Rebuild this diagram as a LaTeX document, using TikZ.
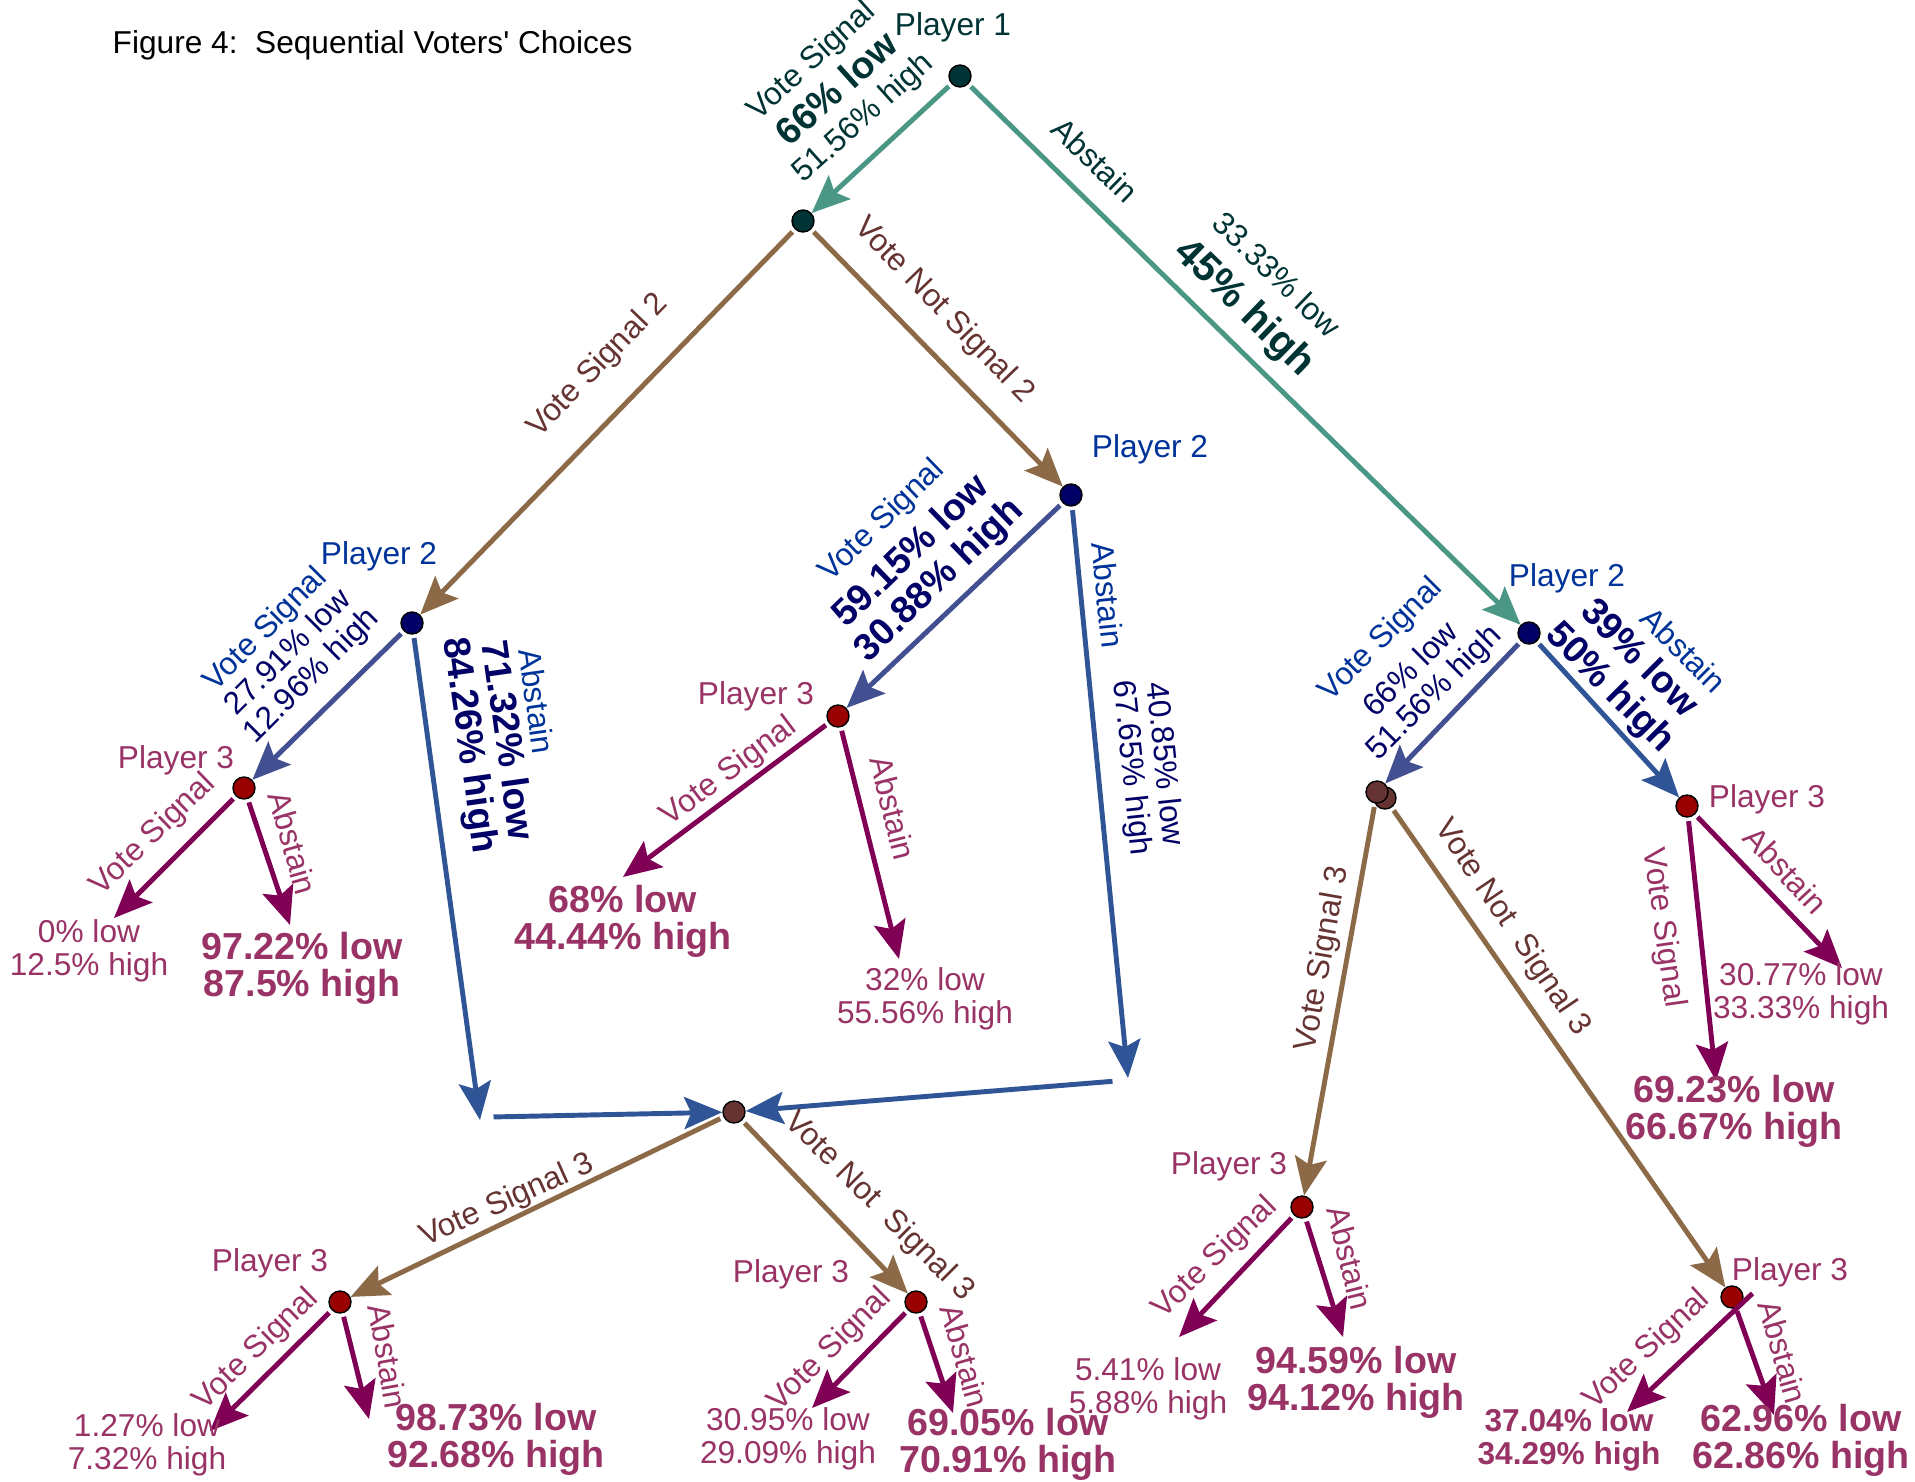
\documentclass[tikz,border=0pt]{standalone}
\usepackage{fontspec}
\setmainfont{Liberation Sans}
\usetikzlibrary{arrows.meta}
\definecolor{pone}{HTML}{003333}
\definecolor{tline}{HTML}{4A9786}
\definecolor{bline}{HTML}{8C6A48}
\definecolor{btext}{HTML}{663333}
\definecolor{ptwo}{HTML}{003399}
\definecolor{navy}{HTML}{000066}
\definecolor{vblue}{HTML}{424F90}
\definecolor{ablue}{HTML}{2F5597}
\definecolor{mline}{HTML}{800055}
\definecolor{pthree}{HTML}{993366}
\definecolor{pred}{HTML}{990000}
\newcommand\labfont{\fontsize{9}{9.3}\selectfont}
\newcommand\probfont{\fontsize{10.7}{10.6}\selectfont\bfseries}
\newcommand\headfont{\fontsize{11.5}{11}\selectfont\bfseries}
\newcommand\squote{\XeTeXglyph\XeTeXcharglyph"0027\relax}
\tikzset{
  dot/.style={circle,draw=black,line width=0.4pt,minimum size=0.22cm,inner sep=0pt},
  arr/.style={-{Stealth[length=0.38cm,width=0.32cm,inset=0.07cm]},line width=1.4pt,shorten <=1pt},
  lbl/.style={inner sep=0pt,align=center,font=\labfont},
  prob/.style={inner sep=0pt,align=center,font=\probfont},
}
\begin{document}
\begin{tikzpicture}[x=0.01cm,y=-0.01cm]
\useasboundingbox (0,0) rectangle (1915,1481);
\node[lbl,anchor=west] (title) at (112,45) {Figure 4:\ \ Sequential Voters\squote{} Choices};
% choice nodes
\node[dot,fill=pone] (p1) at (960,76) {};
\node[dot,fill=pone] (s1) at (803,221) {};
\node[dot,fill=navy] (p2l) at (412,623) {};
\node[dot,fill=navy] (p2m) at (1071,495) {};
\node[dot,fill=navy] (p2r) at (1529,633) {};
\node[dot,fill=pred] (p3a) at (244,788) {};
\node[dot,fill=pred] (p3b) at (838,716) {};
\node[dot,fill=btext] (m1) at (734,1112) {};
\node[dot,fill=pred] (p3c) at (340,1302) {};
\node[dot,fill=pred] (p3d) at (916,1302) {};
\node[dot,fill=btext] (m2b) at (1385,798) {};
\node[dot,fill=btext] (m2) at (1377,792) {};
\node[dot,fill=pred] (p3e) at (1687,806) {};
\node[dot,fill=pred] (p3f) at (1302,1207) {};
\node[dot,fill=pred] (p3g) at (1732,1297) {};
% free ends
\coordinate (t2l) at (480,1120);
\coordinate (h2l) at (490,1117);
\coordinate (t2m) at (1128,1078);
\coordinate (h2m) at (1116,1081);
\coordinate (t3a1) at (114,918);
\coordinate (t3a2) at (290,925);
\coordinate (t3b1) at (623,877);
\coordinate (t3b2) at (899,959);
\coordinate (t3c1) at (210,1431);
\coordinate (t3c2) at (369,1419);
\coordinate (t3d1) at (812,1408);
\coordinate (t3d2) at (953,1413);
\coordinate (t3e1) at (1716,1081);
\coordinate (t3e2) at (1842,968);
\coordinate (t3f1) at (1179,1337);
\coordinate (t3f2) at (1343,1337);
\coordinate (s3g1) at (1755,1291);
\coordinate (t3g1) at (1627,1412);
\coordinate (t3g2) at (1774,1415);
% player 1
\draw[arr,tline] (p1) -- (s1);
\draw[arr,tline] (p1) -- (p2r);
\draw[arr,bline] (s1) -- (p2l);
\draw[arr,bline] (s1) -- (p2m);
% player 2
\draw[arr,vblue] (p2l) -- (p3a);
\draw[arr,ablue] (p2l) -- (t2l);
\draw[arr,ablue] (h2l) -- (m1);
\draw[arr,vblue] (p2m) -- (p3b);
\draw[arr,ablue] (p2m) -- (t2m);
\draw[arr,ablue] (h2m) -- (m1);
\draw[arr,vblue] (p2r) -- (m2);
\draw[arr,ablue] (p2r) -- (p3e);
\draw[arr,bline] (m1) -- (p3c);
\draw[arr,bline] (m1) -- (p3d);
\draw[arr,bline] (m2) -- (p3f);
\draw[arr,bline] (m2b) -- (p3g);
% player 3
\draw[arr,mline] (p3a) -- (t3a1);
\draw[arr,mline] (p3a) -- (t3a2);
\draw[arr,mline] (p3b) -- (t3b1);
\draw[arr,mline] (p3b) -- (t3b2);
\draw[arr,mline] (p3c) -- (t3c1);
\draw[arr,mline] (p3c) -- (t3c2);
\draw[arr,mline] (p3d) -- (t3d1);
\draw[arr,mline] (p3d) -- (t3d2);
\draw[arr,mline] (p3e) -- (t3e1);
\draw[arr,mline] (p3e) -- (t3e2);
\draw[arr,mline] (p3f) -- (t3f1);
\draw[arr,mline] (p3f) -- (t3f2);
\draw[arr,mline] (s3g1) -- (t3g1);
\draw[arr,mline] (p3g) -- (t3g2);
% labels, player 1
\node[lbl,text=pone] (lp1) at (953,27) {Player 1};
\node[lbl,text=pone,rotate=42] (lv1) at (838,90) {Vote Signal\\[1pt]{\probfont 66\% low}\\[1pt]51.56\% high};
\node[lbl,text=pone,rotate=-44] (la1) at (1095,160) {Abstain};
\node[lbl,text=pone,rotate=-44] (lq1) at (1258,294) {33.33\% low\\[4pt]{\headfont 45\% high}};
\node[lbl,text=btext,rotate=46] (lvs2) at (598,366) {Vote Signal 2};
\node[lbl,text=btext,rotate=-46] (lvn2) at (944,311) {Vote Not Signal 2};
% labels, player 2
\node[lbl,text=ptwo] (lp2l) at (379,556) {Player 2};
\node[lbl,text=ptwo] (lp2m) at (1150,449) {Player 2};
\node[lbl,text=ptwo] (lp2r) at (1567,578) {Player 2};
\node[lbl,text=navy,rotate=45] (lv2l) at (289,653) {\textcolor{ptwo}{Vote Signal}\\27.91\% low\\12.96\% high};
\node[lbl,text=ptwo,rotate=-82] (la2l) at (537,701) {Abstain};
\node[prob,text=navy,rotate=-82] (lq2l) at (487,743) {71.32\% low\\84.26\% high};
\node[lbl,text=navy,rotate=44] (lv2m) at (912,552) {\textcolor{ptwo}{Vote Signal}\\[2pt]{\probfont 59.15\% low}\\[2pt]{\probfont 30.88\% high}};
\node[lbl,text=ptwo,rotate=-84] (la2m) at (1108,595) {Abstain};
\node[lbl,text=navy,rotate=-84] (lq2m) at (1147,766) {40.85\% low\\67.65\% high};
\node[lbl,text=navy,rotate=45] (lv2r) at (1408,667) {\textcolor{ptwo}{Vote Signal}\\[3pt]66\% low\\51.56\% high};
\node[lbl,text=ptwo,rotate=-45] (la2r) at (1684,650) {Abstain};
\node[prob,text=navy,rotate=-45] (lq2r) at (1624,674) {39\% low\\[1pt]50\% high};
\node[lbl,text=btext,rotate=24] (lvs3a) at (507,1201) {Vote Signal 3};
\node[lbl,text=btext,rotate=-45] (lvn3a) at (879,1207) {Vote Not\ \ Signal 3};
\node[lbl,text=btext,rotate=80] (lvs3b) at (1323,959) {Vote Signal 3};
\node[lbl,text=btext,rotate=-56] (lvn3b) at (1512,928) {Vote Not\ \ Signal 3};
% labels, player 3
\node[lbl,text=pthree] (lp3a) at (176,760) {Player 3};
\node[lbl,text=pthree] (lp3b) at (756,696) {Player 3};
\node[lbl,text=pthree] (lp3c) at (270,1263) {Player 3};
\node[lbl,text=pthree] (lp3d) at (791,1274) {Player 3};
\node[lbl,text=pthree] (lp3e) at (1767,799) {Player 3};
\node[lbl,text=pthree] (lp3f) at (1229,1166) {Player 3};
\node[lbl,text=pthree] (lp3g) at (1790,1272) {Player 3};
\node[lbl,text=pthree,rotate=44] (lv3a) at (153,835) {Vote Signal};
\node[lbl,text=pthree,rotate=-74] (la3a) at (293,843) {Abstain};
\node[lbl,text=pthree,rotate=37] (lv3b) at (729,772) {Vote Signal};
\node[lbl,text=pthree,rotate=-76] (la3b) at (893,808) {Abstain};
\node[lbl,text=pthree,rotate=44] (lv3c) at (256,1350) {Vote Signal};
\node[lbl,text=pthree,rotate=-80] (la3c) at (388,1356) {Abstain};
\node[lbl,text=pthree,rotate=45] (lv3d) at (830,1350) {Vote Signal};
\node[lbl,text=pthree,rotate=-74] (la3d) at (965,1356) {Abstain};
\node[lbl,text=pthree,rotate=-82] (lv3e) at (1663,928) {Vote Signal};
\node[lbl,text=pthree,rotate=-47] (la3e) at (1786,870) {Abstain};
\node[lbl,text=pthree,rotate=44] (lv3f) at (1215,1258) {Vote Signal};
\node[lbl,text=pthree,rotate=-76] (la3f) at (1350,1258) {Abstain};
\node[lbl,text=pthree,rotate=43] (lv3g) at (1647,1350) {Vote Signal};
\node[lbl,text=pthree,rotate=-74] (la3g) at (1783,1352) {Abstain};
% outcomes
\node[lbl,text=pthree] (q3a1) at (89,951) {0\% low\\12.5\% high};
\node[prob,text=pthree] (q3a2) at (302,968) {97.22\% low\\87.5\% high};
\node[prob,text=pthree] (q3b1) at (623,921) {68\% low\\44.44\% high};
\node[lbl,text=pthree] (q3b2) at (925,999) {32\% low\\55.56\% high};
\node[lbl,text=pthree] (q3c1) at (147,1445) {1.27\% low\\7.32\% high};
\node[prob,text=pthree] (q3c2) at (496,1439) {98.73\% low\\92.68\% high};
\node[lbl,text=pthree] (q3d1) at (788,1439) {30.95\% low\\29.09\% high};
\node[prob,text=pthree] (q3d2) at (1008,1444) {69.05\% low\\70.91\% high};
\node[prob,text=pthree] (q3e1) at (1734,1111) {69.23\% low\\66.67\% high};
\node[lbl,text=pthree] (q3e2) at (1801,994) {30.77\% low\\33.33\% high};
\node[lbl,text=pthree] (q3f1) at (1148,1389) {5.41\% low\\5.88\% high};
\node[prob,text=pthree] (q3f2) at (1356,1382) {94.59\% low\\94.12\% high};
\node[lbl,text=pthree,font=\labfont\bfseries] (q3g1) at (1569,1440) {37.04\% low\\34.29\% high};
\node[prob,text=pthree] (q3g2) at (1801,1440) {62.96\% low\\62.86\% high};
\end{tikzpicture}
\end{document}
